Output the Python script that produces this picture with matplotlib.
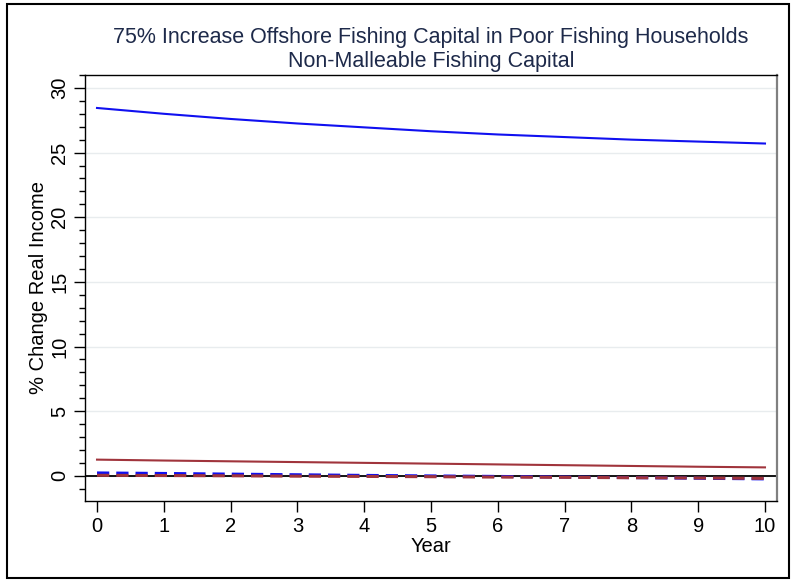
import matplotlib
matplotlib.use("Agg")
import matplotlib.pyplot as plt
from matplotlib.patches import Rectangle
from matplotlib.ticker import MultipleLocator

plt.rcParams['font.family'] = ['Liberation Sans', 'DejaVu Sans']

years = [0, 1, 2, 3, 4, 5, 6, 7, 8, 9, 10]
poor_fishing = [28.45, 28.0, 27.6, 27.25, 26.95, 26.65, 26.4, 26.2, 26.0, 25.85, 25.7]
other_fishing = [1.25, 1.18, 1.12, 1.06, 1.0, 0.94, 0.88, 0.82, 0.76, 0.70, 0.65]
poor_nonfishing = [0.22, 0.18, 0.13, 0.08, 0.03, -0.01, -0.05, -0.10, -0.14, -0.19, -0.24]
other_nonfishing = [0.04, 0.02, 0.0, -0.03, -0.05, -0.07, -0.10, -0.12, -0.15, -0.17, -0.20]

title = "75% Increase Offshore Fishing Capital in Poor Fishing Households\nNon-Malleable Fishing Capital"
xlabel = "Year"
ylabel = "% Change Real Income"

blue = "#1010f0"
maroon = "#a0343c"
navy = "#1e2a4a"

fig = plt.figure(figsize=(7.93, 5.8), dpi=100)
ax = fig.add_axes([85 / 793, 1 - 501 / 580, (777 - 85) / 793, (501 - 75) / 580])

# outer frame
fig.patches.append(Rectangle((7 / 793, 2 / 580), (789 - 7) / 793, (578 - 4) / 580,
                             transform=fig.transFigure, fill=False,
                             edgecolor="black", linewidth=1.5))

ax.set_xlim(-0.18, 10.18)
ax.set_ylim(-1.95, 31.0)

for v in range(0, 31, 5):
    ax.axhline(v, color="#e8ecee", linewidth=1.0, zorder=0)
ax.axhline(0, color="black", linewidth=1.3, zorder=1)

ax.plot(years, poor_fishing, color=blue, linewidth=1.5, zorder=3)
ax.plot(years, other_fishing, color=maroon, linewidth=1.5, zorder=3)
ax.plot(years, poor_nonfishing, color=blue, linewidth=2.2, dashes=(4, 2.3), zorder=3)
ax.plot(years, other_nonfishing, color=maroon, linewidth=2.2, dashes=(4, 2.3), zorder=3)

ax.xaxis.set_major_locator(MultipleLocator(1))
ax.yaxis.set_major_locator(MultipleLocator(5))
ax.yaxis.set_minor_locator(MultipleLocator(1))
ax.tick_params(axis="both", which="major", length=8, width=1, labelsize=14.5,
               colors="black", labelcolor="black")
ax.tick_params(axis="y", which="minor", length=4, width=1)
for lbl in ax.get_yticklabels():
    lbl.set_rotation(90)
    lbl.set_va("center")

for s in ax.spines.values():
    s.set_linewidth(1.0)
ax.spines["right"].set_color("#808080")
ax.spines["right"].set_linewidth(1.6)

ax.set_xlabel(xlabel, fontsize=14.5, labelpad=1)
ax.set_ylabel(ylabel, fontsize=14.5)
ax.yaxis.set_label_coords(-0.053, 0.5)
ax.set_title(title, fontsize=15.5, color=navy, pad=6, linespacing=1.15)

fig.savefig("out.png", dpi=100)
